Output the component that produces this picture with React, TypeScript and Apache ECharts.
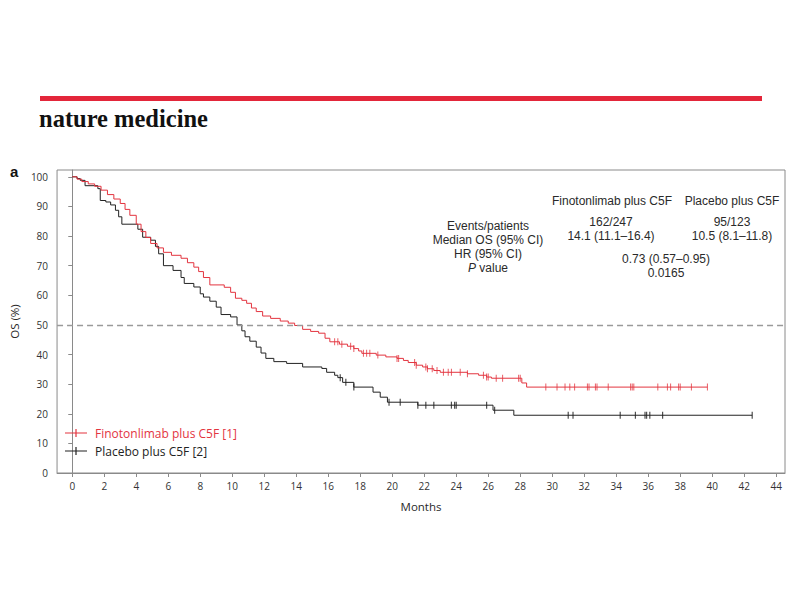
import React, { useEffect, useRef } from "react";
import * as echarts from "echarts";

// Kaplan–Meier steps: [month, OS %]
const finoSteps: number[][] = [
  [0, 100], [0.3, 99.2], [0.6, 98.4], [1.0, 97.6], [1.4, 96.8], [1.8, 95.5], [2.2, 94], [2.6, 92.5],
  [3.0, 91], [3.3, 89], [3.6, 87], [4.0, 84], [4.3, 81.5], [4.6, 79.5], [4.9, 77.5], [5.3, 76],
  [5.7, 74.5], [6.2, 73.5], [6.8, 72.5], [7.2, 71], [7.6, 69.5], [7.9, 68], [8.2, 66], [8.6, 63.5],
  [9.5, 62.7], [9.9, 61], [10.2, 59], [10.6, 58.3], [10.9, 57.3], [11.2, 55.7], [11.5, 54.5],
  [11.9, 53], [12.4, 52.2], [13.0, 51.3], [13.5, 50.6], [13.9, 49.8], [14.4, 48.5], [14.9, 47.8],
  [15.4, 47.2], [15.8, 45.5], [16.1, 44.3], [16.7, 43.5], [17.2, 42.8], [17.6, 42], [17.9, 41.2],
  [18.1, 40.4], [19.0, 39.8], [19.6, 39.2], [20.3, 38.7], [20.7, 38], [21.0, 37.3], [21.5, 36.4],
  [21.9, 35.8], [22.2, 35.2], [22.6, 34.6], [23.0, 34], [24.7, 33.5], [25.4, 33], [25.9, 32.4],
  [26.2, 32], [28.1, 30.4], [28.4, 29], [39.7, 29],
];

const placeboSteps: number[][] = [
  [0, 100], [0.3, 99.4], [0.5, 98.8], [0.8, 97], [1.6, 96], [1.75, 92], [2.1, 91.5], [2.4, 90.5],
  [2.7, 88.7], [2.9, 86.5], [3.1, 84], [4.1, 82.3], [4.4, 79.6], [4.9, 78.6], [5.2, 76.5],
  [5.4, 74], [5.7, 70], [6.3, 68.4], [6.8, 66], [7.0, 64], [7.6, 62.8], [8.0, 60.5], [8.2, 59.4],
  [8.6, 58], [9.0, 56], [9.3, 53.5], [9.9, 52.7], [10.3, 50], [10.6, 48], [10.8, 46], [11.1, 44.5],
  [11.5, 42.5], [11.8, 40.5], [12.1, 38.7], [12.6, 37.6], [13.4, 37], [14.4, 35.8], [15.6, 35.3],
  [15.9, 34], [16.4, 33], [16.6, 32.2], [16.9, 30.6], [17.6, 29], [18.8, 27.3], [19.25, 25.6],
  [19.7, 23.9], [21.6, 22.9], [26.3, 21.2], [27.6, 19.5], [42.5, 19.5],
];

// Censoring times (months)
const finoCensor: number[] = [
  16.4, 16.6, 16.85, 17.4, 17.6, 18.2, 18.4, 18.6, 19.1, 20.3, 20.4, 21.4, 21.5, 22.1, 22.2, 22.5,
  22.8, 23.2, 23.5, 23.7, 24.25, 24.7, 25.7, 25.9, 26.0, 26.5, 26.9, 27.9, 28.0, 29.6, 30.3, 30.8,
  31.1, 31.4, 32.2, 32.3, 32.7, 32.8, 33.5, 34.9, 35.0, 35.1, 36.6, 37.2, 37.4, 37.9, 38.0, 38.7, 39.7,
];
const placeboCensor: number[] = [
  16.75, 17.1, 17.6, 19.8, 20.5, 21.6, 22.1, 22.6, 23.7, 23.9, 24.0, 25.9, 26.4, 31.0, 31.3, 34.25,
  35.2, 35.8, 35.9, 36.1, 36.9, 42.5,
];

const xTicks: number[] = [0, 2, 4, 6, 8, 10, 12, 14, 16, 18, 20, 22, 24, 26, 28, 30, 32, 34, 36, 38, 40, 42, 44];
const yTicks: number[] = [0, 10, 20, 30, 40, 50, 60, 70, 80, 90, 100];

const seriesNames = ["Finotonlimab plus C5F [1]", "Placebo plus C5F [2]"];
const statRows = ["Events/patients", "Median OS (95% CI)", "HR (95% CI)", "{i|P} value"];
const finoStats = ["162/247", "14.1 (11.1–16.4)"];
const placeboStats = ["95/123", "10.5 (8.1–11.8)"];
const hrStats = ["0.73 (0.57–0.95)", "0.0165"];

const RED = "#e3343f";
const BLACK = "#222222";
const FONT = "Open Sans";
const STAT_FONT = "Liberation Sans";

function survivalAt(steps: number[][], t: number): number {
  let y = steps[0][1];
  for (const [x, v] of steps) {
    if (x <= t + 1e-9) y = v;
    else break;
  }
  return y;
}

const legendIcon = "path://M0,4.4H22V5.6H0Z M10.4,1H11.6V9H10.4Z";

export default function App() {
  const ref = useRef<HTMLDivElement>(null);
  useEffect(() => {
    if (!ref.current) return;
    const chart = echarts.init(ref.current, null, { renderer: "svg" });
    const txt = (x: number, y: number, lines: string[]) => ({
      type: "text",
      x,
      y,
      style: {
        text: lines.join("\n"),
        fill: "#2a2a2a",
        fontFamily: STAT_FONT,
        fontSize: 12,
        lineHeight: 14,
        align: "center",
        verticalAlign: "middle",
        rich: {
          i: { fontStyle: "italic", fontFamily: STAT_FONT, fontSize: 12, lineHeight: 14, fill: "#2a2a2a" },
        },
      },
    });
    chart.setOption({
      animation: false,
      backgroundColor: "#ffffff",
      grid: {
        left: 57,
        right: 15,
        top: 170,
        bottom: 127,
        show: true,
        borderColor: "#8a8a8a",
        borderWidth: 1,
        backgroundColor: "transparent",
      },
      legend: {
        orient: "vertical",
        left: 65,
        top: 427,
        padding: 0,
        itemWidth: 22,
        itemHeight: 9,
        itemGap: 6,
        data: [
          { name: seriesNames[0], icon: legendIcon, itemStyle: { color: RED }, textStyle: { color: RED } },
          { name: seriesNames[1], icon: legendIcon, itemStyle: { color: BLACK }, textStyle: { color: BLACK } },
        ],
        textStyle: { fontFamily: FONT, fontSize: 12, padding: [0, 0, 0, 3] },
      },
      xAxis: {
        type: "value",
        min: -0.95,
        max: 44.55,
        name: "Months",
        nameLocation: "middle",
        nameGap: 27,
        nameTextStyle: { fontFamily: FONT, fontSize: 11.5, color: "#2a2a2a" },
        axisLine: { show: true, lineStyle: { color: "#8a8a8a", width: 1 } },
        axisTick: { show: true, length: 4, lineStyle: { color: "#8a8a8a" }, customValues: xTicks },
        axisLabel: { fontFamily: FONT, fontSize: 10, color: "#333", margin: 8, customValues: xTicks },
        splitLine: { show: false },
      },
      yAxis: {
        type: "value",
        min: 0,
        max: 102.3,
        name: "OS (%)",
        nameLocation: "middle",
        nameGap: 36,
        nameTextStyle: { fontFamily: FONT, fontSize: 11.5, color: "#2a2a2a" },
        axisLine: { show: true, lineStyle: { color: "#8a8a8a", width: 1 } },
        axisTick: { show: true, length: 4, lineStyle: { color: "#8a8a8a" }, customValues: yTicks },
        axisLabel: { fontFamily: FONT, fontSize: 10, color: "#333", margin: 9, customValues: yTicks },
        splitLine: { show: false },
      },
      series: [
        {
          name: seriesNames[0],
          type: "line",
          step: "end",
          showSymbol: false,
          symbol: "none",
          data: finoSteps,
          lineStyle: { color: RED, width: 1 },
          itemStyle: { color: RED },
          z: 3,
          markLine: {
            silent: true,
            symbol: "none",
            label: { show: false },
            lineStyle: { color: "#9a9a9a", type: [6, 4], width: 1.3 },
            data: [{ yAxis: 50 }],
          },
        },
        {
          name: seriesNames[1],
          type: "line",
          step: "end",
          showSymbol: false,
          symbol: "none",
          data: placeboSteps,
          lineStyle: { color: BLACK, width: 1 },
          itemStyle: { color: BLACK },
          z: 2,
        },
        {
          name: "fino-censor",
          type: "scatter",
          symbol: "rect",
          symbolSize: [1, 7],
          itemStyle: { color: RED },
          data: finoCensor.map((t) => [t, survivalAt(finoSteps, t)]),
          z: 4,
        },
        {
          name: "placebo-censor",
          type: "scatter",
          symbol: "rect",
          symbolSize: [1.2, 7],
          itemStyle: { color: BLACK },
          data: placeboCensor.map((t) => [t, survivalAt(placeboSteps, t)]),
          z: 4,
        },
      ],
      graphic: [
        { type: "rect", shape: { x: 40, y: 96, width: 722, height: 5 }, style: { fill: "#e3263a" } },
        {
          type: "text",
          x: 39,
          y: 118,
          style: {
            text: "nature medicine",
            fill: "#111",
            font: `bold 24.5px "Liberation Serif"`,
            verticalAlign: "middle",
            align: "left",
          },
        },
        {
          type: "text",
          x: 10,
          y: 171,
          style: { text: "a", fill: "#111", font: `bold 15px "Liberation Sans"`, verticalAlign: "middle" },
        },
        txt(612, 201, ["Finotonlimab plus C5F"]),
        txt(732, 201, ["Placebo plus C5F"]),
        txt(488, 247, statRows),
        txt(611, 229, finoStats),
        txt(732, 229, placeboStats),
        txt(666, 266, hrStats),
      ],
    });
    return () => chart.dispose();
  }, []);
  return <div ref={ref} style={{ width: 800, height: 600, position: "absolute", left: 0, top: 0 }} />;
}
